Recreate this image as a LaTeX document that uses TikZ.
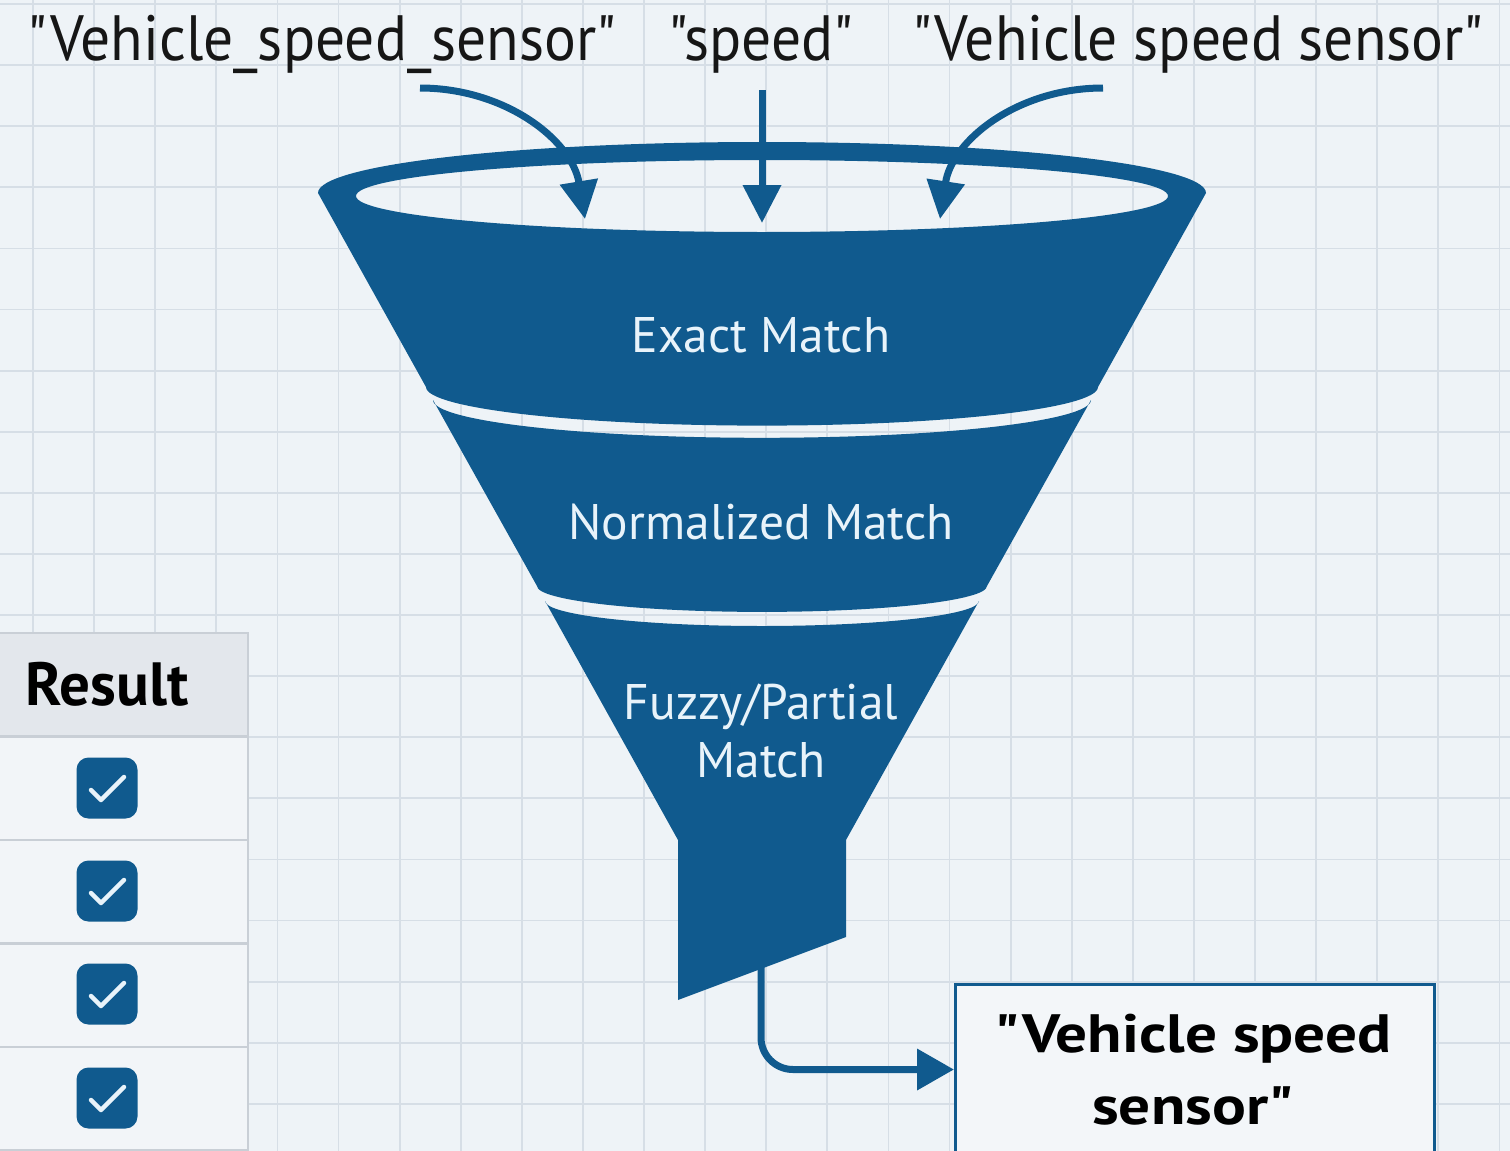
\documentclass[tikz,border=0pt]{standalone}
\usepackage{fontspec}
\setmainfont{PT Sans}
\newfontfamily\toplab[FakeStretch=0.93]{PT Sans}
\newfontfamily\funlab[FakeStretch=0.99]{PT Sans}
\newfontfamily\boldlab{PT Sans}
\newfontfamily\outlab[FakeStretch=1.17]{PT Sans}
\usetikzlibrary{arrows.meta}
\definecolor{bg}{HTML}{EEF3F7}
\definecolor{gridc}{HTML}{D6DEE6}
\definecolor{fblue}{HTML}{105A8E}
\definecolor{ink}{HTML}{161616}
\definecolor{lighttext}{HTML}{E8F3FA}
\definecolor{tabline}{HTML}{C9CFD6}
\definecolor{tabhead}{HTML}{E3E7EC}
\definecolor{tabcell}{HTML}{F2F5F8}
\definecolor{outfill}{HTML}{F3F6F9}
\begin{document}
\begin{tikzpicture}[x=1pt,y=-1pt,
  gridline/.style={draw=gridc, line width=1.8pt},
  toplabel/.style={anchor=base, text=ink, inner sep=0pt, font=\toplab\fontsize{64}{70}\selectfont},
  funlabel/.style={text=lighttext, inner sep=0pt, align=center, font=\funlab\fontsize{50}{58}\selectfont},
  flow/.style={draw=fblue, line width=7pt, -{Triangle[length=38pt,width=37pt]}},
  cell/.style={draw=tabline, line width=2.2pt, fill=tabcell, minimum width=282pt, minimum height=103.5pt, inner sep=0pt},
  headcell/.style={cell, fill=tabhead, text=black, font=\boldlab\bfseries\fontsize{61}{66}\selectfont},
  chk/.style={fill=fblue, rounded corners=12pt, minimum width=61pt, minimum height=61pt, inner sep=0pt},
  checkmark/.style={draw=lighttext, line width=4.5pt, line cap=round, line join=round},
  outbox/.style={draw=fblue, line width=3pt, fill=outfill, minimum width=479pt, minimum height=170pt, inner sep=0pt, anchor=north west},
  outtext/.style={text=black, inner sep=0pt, align=center, font=\outlab\bfseries\fontsize{54}{72}\selectfont}
]
\useasboundingbox (0,0) rectangle (1510,1151);
\fill[bg] (0,0) rectangle (1510,1151);
% grid
\foreach \i in {0,...,24} \draw[gridline] ({33+61.1*\i},0) -- ({33+61.1*\i},1151);
\foreach \j in {0,...,18} \draw[gridline] (0,{4+61.1*\j}) -- (1510,{4+61.1*\j});

% funnel: top rim + band 1
\fill[fblue, even odd rule] (318,193) arc[start angle=180,end angle=360,x radius=444,y radius=51]
   -- (1098,387) arc[start angle=0,end angle=180,x radius=336,y radius=38.6] -- cycle
   (762,196) ellipse[x radius=406, y radius=36];
% band 2
\fill[fblue] (433,400) arc[start angle=180,end angle=0,x radius=329,y radius=37.8]
   -- (987,586) arc[start angle=0,end angle=180,x radius=225,y radius=25.9] -- cycle;
% band 3 and spout
\fill[fblue] (545,601) arc[start angle=180,end angle=0,x radius=217,y radius=25]
   -- (846,840) -- (846,937) -- (678,1000) -- (678,840) -- cycle;

\node[funlabel] (exact) at (761,335) {Exact Match};
\node[funlabel] (norm) at (761,522) {Normalized Match};
\node[funlabel] (fuzzy) at (761,731) {Fuzzy/Partial\\Match};

% input labels
\node[toplabel] (lab1) at (322,60) {"Vehicle\_speed\_sensor"};
\node[toplabel] (lab2) at (761,60) {"speed"};
\node[toplabel] (lab3) at (1198,60) {"Vehicle speed sensor"};

\coordinate (s1) at (420,88);
\coordinate (s2) at (762,90);
\coordinate (s3) at (1103,88);
\coordinate (t1) at (585,219);
\coordinate (t2) at (762,223);
\coordinate (t3) at (940,219);
\draw[flow] (s1) .. controls (505,88) and (572,140) .. (t1);
\draw[flow] (s2) -- (t2);
\draw[flow] (s3) .. controls (1018,88) and (952,140) .. (t3);

% result table
\node[headcell] (hdr) at (107,684.75) {Result};
\node[cell] (r1) at (107,788.25) {};
\node[cell] (r2) at (107,891.75) {};
\node[cell] (r3) at (107,995.25) {};
\node[cell] (r4) at (107,1098.75) {};
\foreach \k/\y in {1/788,2/891,3/994,4/1098}{
  \node[chk] (k\k) at (107,\y) {};
  \draw[checkmark] ([shift={(-16,2)}]k\k.center) -- ++(10,10) -- ++(23,-23);
}

% output
\node[outbox] (out) at (954,983) {};
\node[outtext] (outlabel) at (1193,1070) {"Vehicle speed\\sensor"};
\coordinate (spout) at (761,960);
\draw[flow, -{Triangle[length=37pt,width=40pt]}, rounded corners=32pt] (spout) |- (out.west);
\end{tikzpicture}
\end{document}
